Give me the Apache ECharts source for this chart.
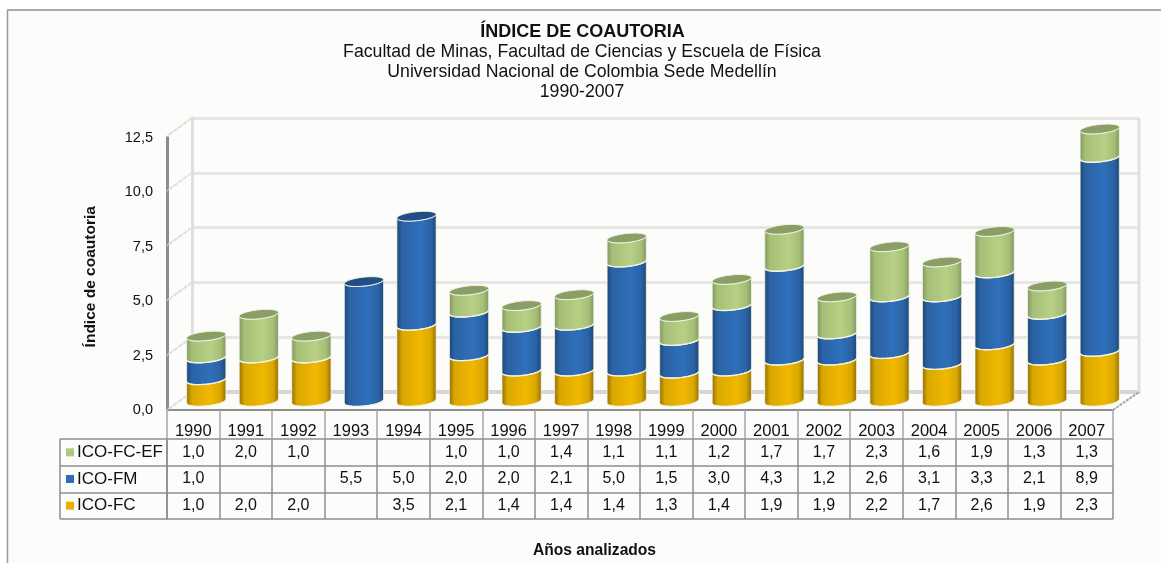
<!DOCTYPE html>
<html><head><meta charset="utf-8"><style>html,body{margin:0;padding:0;background:#fff}#c{width:1161px;height:563px}</style>
<script src="https://cdn.jsdelivr.net/npm/echarts@6/dist/echarts.min.js"></script></head>
<body><div id="c"></div>
<script>
const years=['1990','1991','1992','1993','1994','1995','1996','1997','1998','1999','2000','2001','2002','2003','2004','2005','2006','2007'];
const icoFC=[1.0,2.0,2.0,null,3.5,2.1,1.4,1.4,1.4,1.3,1.4,1.9,1.9,2.2,1.7,2.6,1.9,2.3];
const icoFM=[1.0,null,null,5.5,5.0,2.0,2.0,2.1,5.0,1.5,3.0,4.3,1.2,2.6,3.1,3.3,2.1,8.9];
const icoEF=[1.0,2.0,1.0,null,null,1.0,1.0,1.4,1.1,1.1,1.2,1.7,1.7,2.3,1.6,1.9,1.3,1.3];
const rowNames=['ICO-FC','ICO-FM','ICO-FC-EF'];
const titleLines=['Facultad de Minas, Facultad de Ciencias y Escuela de Física','Universidad Nacional de Colombia Sede Medellín','1990-2007'];
const yTicks=[0,2.5,5,7.5,10,12.5];

const seriesVals=[icoFC,icoFM,icoEF];
const colors=[
 {e:'#8f6c00',m:'#d9a700',c:'#f0b800',cap:'#a8860e'},
 {e:'#1d4673',m:'#2a62a4',c:'#2f70bb',cap:'#1f4f85'},
 {e:'#7f9560',m:'#a5bf78',c:'#b8d084',cap:'#8a9f66'}];
const swatch=['#e9ae00','#2f6db5','#aec980'];
const font='"Liberation Sans",Arial,sans-serif';
const comma=v=>v.toFixed(1).replace('.',',');

const stacks=years.map(()=>0);
const tops=years.map((_,i)=>{let last=-1;seriesVals.forEach((s,k)=>{if(s[i]!=null)last=k});return last});
const barSeries=seriesVals.map((vals,k)=>{
  const data=vals.map((v,i)=>{const a=stacks[i];const b=a+(v||0);stacks[i]=b;return [i,a,b,v==null?0:1,tops[i]===k?1:0]});
  return {type:'custom',name:rowNames[k],xAxisIndex:2,yAxisIndex:2,z:5,clip:false,
    encode:{x:0,y:[1,2]},data,
    renderItem(p,api){
      if(!api.value(3))return {type:'group',children:[]};
      const i=api.value(0);
      const bot=api.coord([i,api.value(1)]),top=api.coord([i,api.value(2)]);
      const a=19.6,b=4.5,sl=0.1,cx=bot[0];
      const pt=(cy,t)=>[cx+a*Math.cos(t),cy+b*Math.sin(t)-sl*a*Math.cos(t)];
      const pts=[];
      for(let n=0;n<=24;n++)pts.push(pt(top[1],Math.PI*n/24));
      for(let n=0;n<=24;n++)pts.push(pt(bot[1],Math.PI-Math.PI*n/24));
      const col=colors[k];
      const kids=[{type:'polygon',shape:{points:pts},style:{
        fill:new echarts.graphic.LinearGradient(0,0,1,0,[{offset:0,color:col.e},{offset:.14,color:col.m},{offset:.6,color:col.c},{offset:.86,color:col.m},{offset:1,color:col.e}]),
        stroke:'rgba(246,245,232,.75)',lineWidth:1}}];
      const arc=[];for(let n=0;n<=24;n++)arc.push(pt(bot[1],Math.PI-Math.PI*n/24));
      kids.push({type:'polyline',shape:{points:arc},style:{fill:'none',stroke:'#f4f3e4',lineWidth:1.4}});
      if(api.value(4)){
        const cap=[];for(let n=0;n<48;n++)cap.push(pt(top[1],2*Math.PI*n/48));
        kids.push({type:'polygon',shape:{points:cap},style:{fill:col.cap,stroke:'#f4f3e4',lineWidth:1}});
      }
      return {type:'group',children:kids};
    }};
});

const cellData=[];
seriesVals.forEach((s,k)=>s.forEach((v,i)=>{if(v!=null)cellData.push([i,k,comma(v)])}));
const tableSeries={type:'custom',xAxisIndex:3,yAxisIndex:3,z:6,encode:{x:0,y:1},data:cellData,
  renderItem(p,api){const c=api.coord([api.value(0),api.value(1)]);
    return {type:'text',x:c[0],y:c[1],style:{text:api.value(2),x:0,y:0,align:'center',verticalAlign:'middle',font:'16px '+font,fill:'#111'}}}};

const sideSeries={type:'custom',xAxisIndex:1,yAxisIndex:1,z:2,clip:false,encode:{y:1},data:yTicks.map(v=>[0,v]),
  renderItem(p,api){const c=api.coord([0,api.value(1)]);const left=p.coordSys.x;
    return {type:'line',shape:{x1:left,y1:c[1],x2:left-25,y2:c[1]+18},style:{stroke:'#dfdfdc',lineWidth:2,lineDash:[5,1]}}}};

const option={
  animation:false,backgroundColor:'#ffffff',
  title:[
   {text:'ÍNDICE DE COAUTORIA',left:577.5,top:18,textAlign:'center',textStyle:{fontFamily:font,fontSize:18,fontWeight:'bold',color:'#111'}},
   {text:titleLines.join('\n'),left:577,top:37,textAlign:'center',textStyle:{fontFamily:font,fontSize:17.7,fontWeight:'normal',color:'#111',lineHeight:20}}
  ],
  grid:[
   {left:167,top:137.5,width:946,height:272.5},
   {left:192,top:118,width:947,height:274},
   {left:180,top:129,width:946,height:272.5},
   {left:167,top:439,width:946,height:80}
  ],
  xAxis:[
   {gridIndex:0,type:'category',data:years,boundaryGap:true,axisLine:{lineStyle:{color:'#8c8c8c',width:2}},
    axisTick:{show:true,length:29,lineStyle:{color:'#a6a6a6',width:1.5}},
    axisLabel:{color:'#111',fontSize:16.5,fontFamily:font,margin:13,interval:0}},
   {gridIndex:1,type:'category',data:years,axisLine:{show:true,lineStyle:{color:'#d6d6d4',width:4}},axisTick:{show:false},axisLabel:{show:false}},
   {gridIndex:2,type:'category',data:years,show:false},
   {gridIndex:3,type:'category',data:years,axisLine:{show:false},axisLabel:{show:false},axisTick:{show:false},
    splitLine:{show:true,interval:0,lineStyle:{color:'#8e8e8e',width:1.5}}}
  ],
  yAxis:[
   {gridIndex:0,type:'value',min:0,max:12.5,interval:2.5,axisLine:{show:true,lineStyle:{color:'#8c8c8c',width:3}},axisTick:{show:false},splitLine:{show:false},
    axisLabel:{color:'#111',fontSize:14.5,fontFamily:font,margin:14,formatter:v=>comma(v)},
    name:'Índice de coautoria',nameLocation:'middle',nameGap:68,nameTextStyle:{fontFamily:font,fontWeight:'bold',fontSize:15.5,color:'#111',padding:[0,6,0,0]}},
   {gridIndex:1,type:'value',min:0,max:12.5,interval:2.5,axisLine:{show:true,lineStyle:{color:'#e0e0e0',width:3}},axisTick:{show:false},axisLabel:{show:false},
    splitLine:{show:true,lineStyle:{color:'#e6e6e4',width:3}}},
   {gridIndex:2,type:'value',min:0,max:12.5,interval:2.5,show:false},
   {gridIndex:3,type:'category',data:rowNames,axisLine:{show:true,lineStyle:{color:'#8e8e8e',width:1.5}},
    axisTick:{show:true,length:107,lineStyle:{color:'#8e8e8e',width:1.5}},
    splitLine:{show:true,interval:0,lineStyle:{color:'#8e8e8e',width:1.5}},
    axisLabel:{fontFamily:font,margin:101,align:'left',interval:0,formatter:v=>'{s'+rowNames.indexOf(v)+'|}{t|'+v+'}',
      rich:{s0:{width:8,height:8,backgroundColor:swatch[0]},s1:{width:8,height:8,backgroundColor:swatch[1]},s2:{width:8,height:8,backgroundColor:swatch[2]},
        t:{fontFamily:font,fontSize:17,color:'#111',padding:[0,0,0,3]}}}}
  ],
  series:[sideSeries,...barSeries,tableSeries],
  graphic:[
   {type:'rect',z:-1,silent:true,shape:{x:7,y:10,width:1154,height:553},style:{fill:'#fcfcfa',stroke:'none'}},
   {type:'line',z:1,shape:{x1:60,y1:439,x2:60,y2:519},style:{stroke:'#8e8e8e',lineWidth:1.5}},
   {type:'line',z:1,shape:{x1:7.5,y1:10,x2:7.5,y2:563},style:{stroke:'#999',lineWidth:1.5}},
   {type:'line',z:1,shape:{x1:7,y1:10,x2:1161,y2:10},style:{stroke:'#aaa',lineWidth:2}},
   {type:'line',z:1,shape:{x1:1139,y1:118,x2:1139,y2:392},style:{stroke:'#e0e0e0',lineWidth:3}},
   {type:'line',z:1,shape:{x1:1113,y1:410,x2:1139,y2:392},style:{stroke:'#a8a8a8',lineWidth:2,lineDash:[3,1]}},
   {type:'text',left:533,top:542.5,style:{text:'Años analizados',font:'bold 15.6px '+font,fill:'#111'}}
  ]
};
echarts.init(document.getElementById('c'),null,{renderer:'canvas'}).setOption(option);
</script></body></html>
